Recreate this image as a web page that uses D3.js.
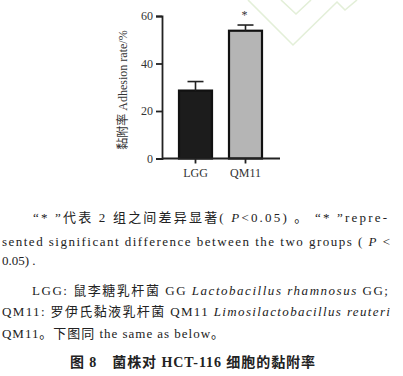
<!DOCTYPE html>
<html lang="zh">
<head>
<meta charset="UTF-8">
<title>Adhesion rate</title>
<script src="https://cdn.jsdelivr.net/npm/d3@7"></script>
<style>
  body { margin: 0; background: #fff; }
  svg { display: block; }
</style>
</head>
<body>
<div id="chart"></div>
<script>
// data
var groups = ['LGG', 'QM11'];
var means = [28.6, 53.8];
var errs = [3.8, 2.4];
var fills = ['#1c1c1c', '#b5b5b5'];
var sig = ['', '*'];
var yTicks = [0, 20, 40, 60];
var yLabel = '黏附率 Adhesion rate/%';

// caption lines: [text, italic?] segments
var noteLines = [
  [['“* ”代表 2 组之间差异显著( ', 0], ['P', 1], ['<0.05) 。 “* ”repre-', 0]],
  [['sented significant difference between the two groups ( ', 0], ['P', 1], [' <', 0]],
  [['0.05) .', 0]],
  [['LGG: 鼠李糖乳杆菌 GG ', 0], ['Lactobacillus rhamnosus', 1], [' GG;', 0]],
  [['QM11: 罗伊氏黏液乳杆菌 QM11 ', 0], ['Limosilactobacillus reuteri', 1]],
  [['QM11。下图同 the same as below。', 0]]
];
var figTitle = '图 8　菌株对 HCT-116 细胞的黏附率';

var width = 403, height = 376;
var svg = d3.select('#chart').append('svg')
  .attr('width', width).attr('height', height);

// faint watermark lines in the corner
var wm = [
  [[248, 0], [293, 45], [337, 2], [345, 10], [357, 0]],
  [[281, 0], [296, 14], [311, 0]]
];
svg.selectAll('.wm').data(wm).join('path')
  .attr('class', 'wm')
  .attr('d', d3.line())
  .attr('fill', 'none')
  .attr('stroke', '#e3efd8')
  .attr('stroke-width', 1.6);

var y = d3.scaleLinear().domain([0, 60]).range([158.5, 16]);
var x = d3.scaleBand().domain(groups).range([179, 262]).paddingInner(0.34).paddingOuter(0);

var g = svg.append('g').style('font-family', '"Liberation Serif", serif');

// bars
g.selectAll('.bar').data(groups).join('rect')
  .attr('class', 'bar')
  .attr('x', function(d) { return x(d); })
  .attr('width', x.bandwidth())
  .attr('y', function(d, i) { return y(means[i]); })
  .attr('height', function(d, i) { return y(0) - y(means[i]); })
  .attr('fill', function(d, i) { return fills[i]; })
  .attr('stroke', '#111')
  .attr('stroke-width', 2.2);

// error bars
groups.forEach(function(d, i) {
  var cx = x(d) + x.bandwidth() / 2;
  g.append('line')
    .attr('x1', cx).attr('x2', cx)
    .attr('y1', y(means[i])).attr('y2', y(means[i] + errs[i]))
    .attr('stroke', '#222').attr('stroke-width', 1.6);
  g.append('line')
    .attr('x1', cx - 8).attr('x2', cx + 8)
    .attr('y1', y(means[i] + errs[i])).attr('y2', y(means[i] + errs[i]))
    .attr('stroke', '#222').attr('stroke-width', 1.6);
  if (sig[i]) {
    g.append('text')
      .attr('x', cx - 1).attr('y', y(means[i] + errs[i]) - 6)
      .attr('text-anchor', 'middle')
      .attr('font-size', 12).attr('fill', '#333')
      .text(sig[i]);
  }
});

// axes
var yAxis = g.append('g').attr('transform', 'translate(162,0)')
  .call(d3.axisLeft(y).tickValues(yTicks).tickSize(6).tickPadding(3));
var xAxis = g.append('g').attr('transform', 'translate(0,' + y(0) + ')')
  .call(d3.axisBottom(x).tickSize(5).tickPadding(5));
xAxis.select('.domain').attr('d', 'M162,0H280');
[yAxis, xAxis].forEach(function(a) {
  a.selectAll('.domain, line').attr('stroke', '#222').attr('stroke-width', 1.8);
  a.selectAll('text').attr('fill', '#333').style('font-size', '12px')
    .style('font-family', '"Liberation Serif", serif');
});

g.append('text')
  .attr('transform', 'translate(127,90) rotate(-90)')
  .attr('text-anchor', 'middle')
  .attr('font-size', 12)
  .attr('fill', '#333')
  .attr('font-family', '"Liberation Serif", "Noto Sans CJK SC", serif')
  .text(yLabel);

// notes below the chart
var linePos = [
  [33, 222, 354], [2, 246, 388], [2, 265, 0],
  [32, 295, 356], [2, 316, 388], [2, 338, 222]
];
noteLines.forEach(function(segs, i) {
  var p = linePos[i];
  var t = svg.append('text')
    .attr('x', p[0]).attr('y', p[1])
    .attr('font-size', 13)
    .attr('fill', '#222')
    .attr('font-family', '"Liberation Serif", "Noto Sans CJK SC", serif');
  if (p[2]) t.attr('textLength', p[2]).attr('lengthAdjust', 'spacing');
  segs.forEach(function(s) {
    t.append('tspan')
      .attr('font-style', s[1] ? 'italic' : null)
      .text(s[0]);
  });
});

svg.append('text')
  .attr('x', 70).attr('y', 367)
  .attr('textLength', 245).attr('lengthAdjust', 'spacing')
  .attr('font-size', 14)
  .attr('font-weight', 'bold')
  .attr('fill', '#222')
  .attr('font-family', '"Liberation Serif", "Noto Sans CJK SC", serif')
  .text(figTitle);
</script>
</body>
</html>
